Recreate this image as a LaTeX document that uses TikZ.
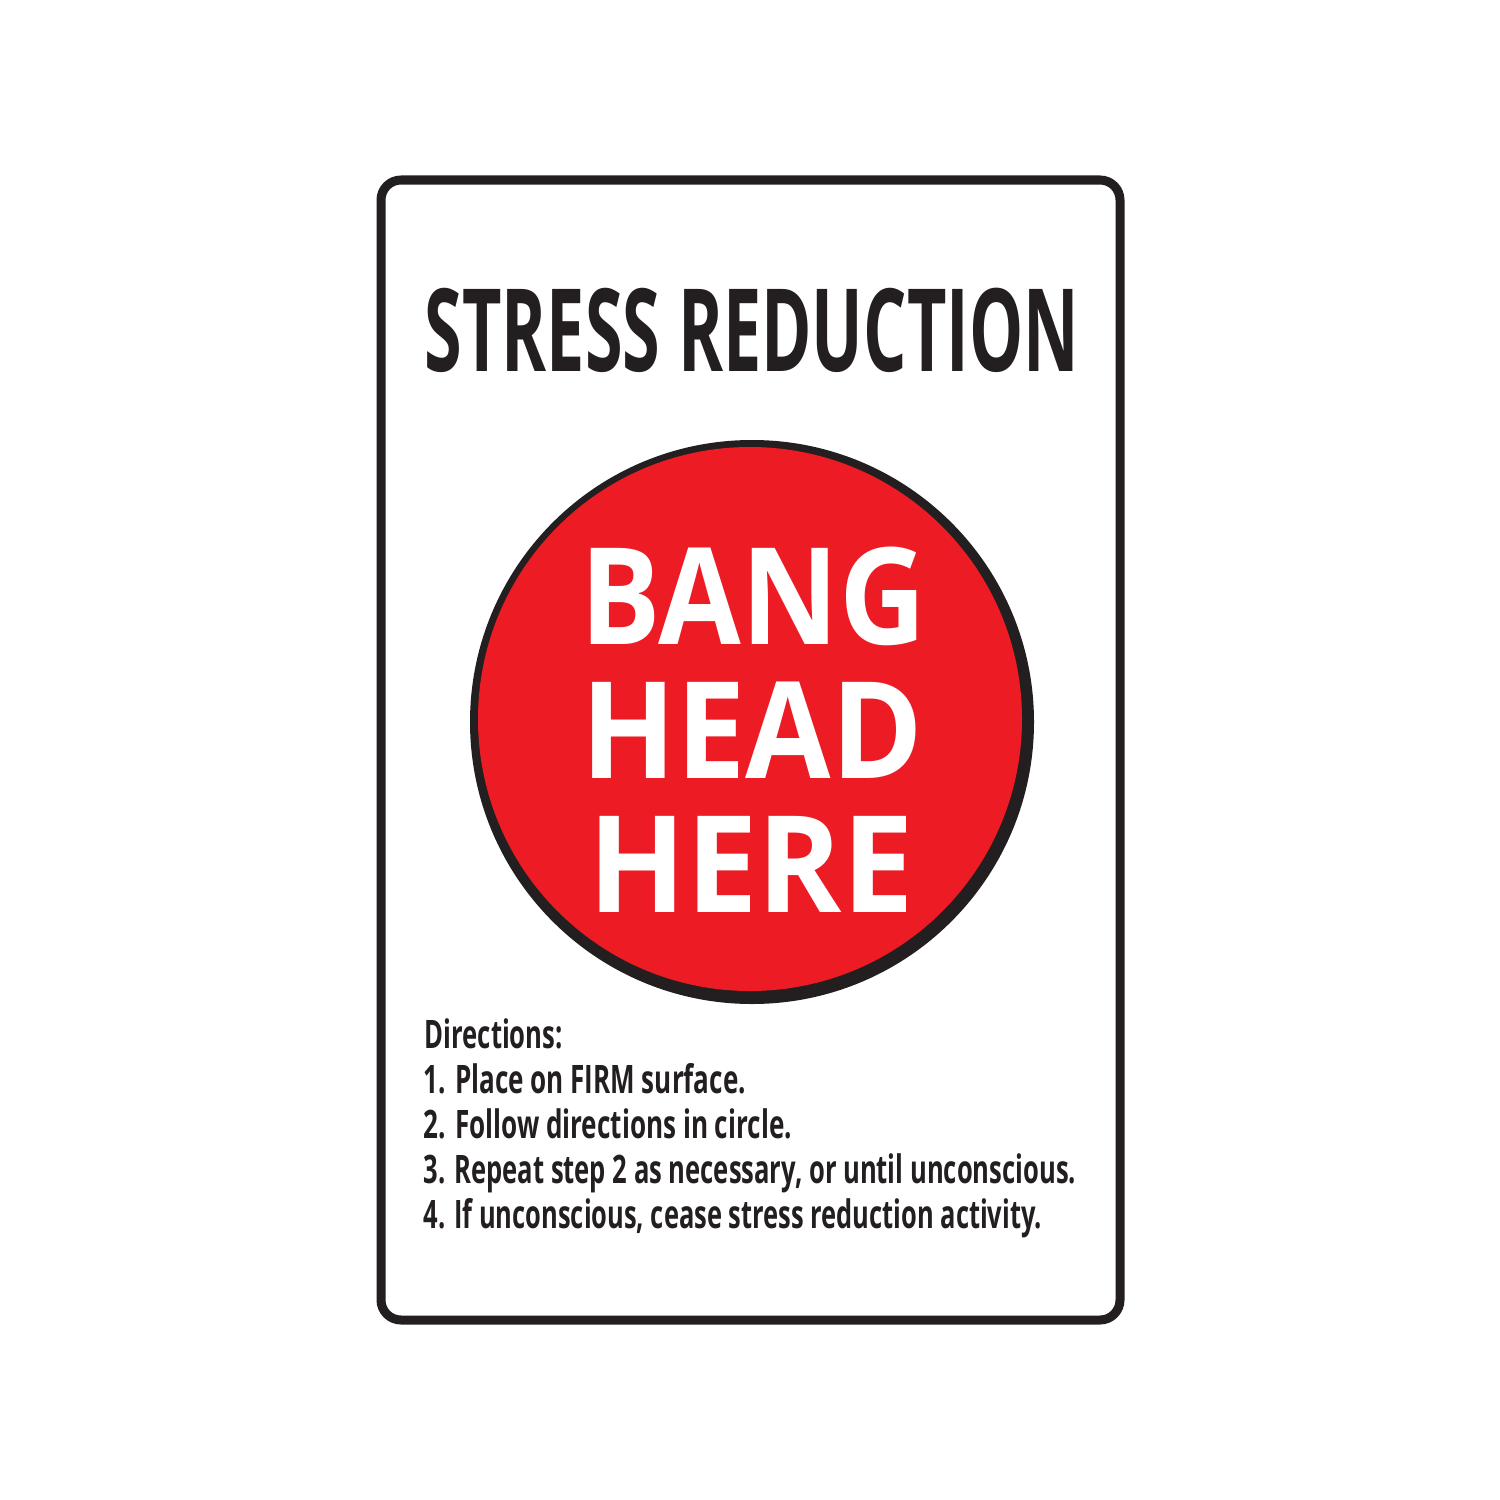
\documentclass[tikz,border=0pt]{standalone}
\usepackage{fontspec}
\setmainfont{Open Sans}
\usepackage{graphicx}
\definecolor{signred}{HTML}{ED1C24}
\definecolor{ink}{HTML}{231F20}
\tikzset{
  titletext/.style={anchor=base west, inner sep=0pt, text=ink, font=\fontsize{32.7pt}{36pt}\selectfont\bfseries},
  bigtext/.style={anchor=base west, inner sep=0pt, text=white, font=\fontsize{38.3pt}{42pt}\selectfont\bfseries},
  dirtext/.style={anchor=base west, inner sep=0pt, text=ink, font=\fontsize{11.16pt}{13pt}\selectfont\bfseries},
}
\begin{document}
\begin{tikzpicture}[x=0.01cm,y=-0.01cm]
\useasboundingbox[fill=white] (0,0) rectangle (1500,1500);
% sign border
\draw[line width=0.09cm, rounded corners=0.2cm, draw=ink] (381,180) rectangle (1120,1320);
% title
\node[titletext] (title) at (424,371) {\resizebox{6.54cm}{\height}{STRESS REDUCTION}};
% circle with shadow-like ring
\fill[ink] (752,722) circle[radius=282];
\fill[signred] (750,719) circle[radius=272];
\node[bigtext] (bang) at (580,644) {\resizebox{3.45cm}{\height}{BANG}};
\node[bigtext] (head) at (581,778) {\resizebox{3.41cm}{\height}{HEAD}};
\node[bigtext] (here) at (588,912) {\resizebox{3.25cm}{\height}{HERE}};
% directions
\node[dirtext] (d0) at (424,1048) {\resizebox{1.38cm}{\height}{Directions:}};
\node[dirtext] (d1) at (423,1093) {\resizebox{3.22cm}{\height}{1. Place on FIRM surface.}};
\node[dirtext] (d2) at (423,1138) {\resizebox{3.68cm}{\height}{2. Follow directions in circle.}};
\node[dirtext] (d3) at (423,1183) {\resizebox{6.52cm}{\height}{3. Repeat step 2 as necessary, or until unconscious.}};
\node[dirtext] (d4) at (423,1228) {\resizebox{6.18cm}{\height}{4. If unconscious, cease stress reduction activity.}};
\end{tikzpicture}
\end{document}
